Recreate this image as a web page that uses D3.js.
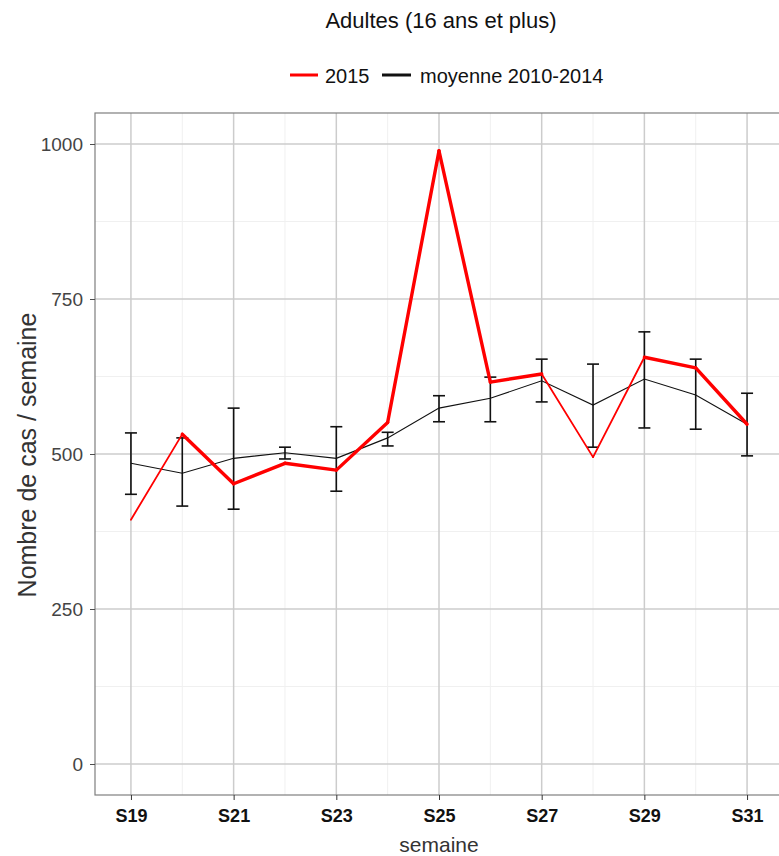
<!DOCTYPE html>
<html>
<head>
<meta charset="utf-8">
<script src="https://cdn.jsdelivr.net/npm/d3@7"></script>
<style>
  body { margin: 0; background: #fff; }
  svg { font-family: 'Liberation Sans', Arial, sans-serif; }
</style>
</head>
<body>
<svg id="chart" width="779" height="856"></svg>
<script>
const semaines = [19, 20, 21, 22, 23, 24, 25, 26, 27, 28, 29, 30, 31];
const cas2015 = [394, 532, 452, 485, 474, 551, 989, 616, 629, 495, 656, 639, 548];
const moyenne = [485, 469, 493, 502, 493, 526, 574, 590, 618, 579, 621, 595, 548];
const borneHaute = [534, 526, 574, 511, 544, 535, 594, 624, 653, 645, 697, 653, 598];
const borneBasse = [435, 416, 411, 492, 440, 513, 552, 552, 584, 511, 542, 540, 497];
const yTicks = [0, 250, 500, 750, 1000];
const xTicks = [19, 21, 23, 25, 27, 29, 31];

// segments of the 2015 line drawn thicker
const THICK = [false, true, true, true, true, true, true, true, false, false, true, true];

const panel = { left: 95, top: 113, right: 783, bottom: 795 };
const FONT = "'Liberation Sans', Arial, sans-serif";

const svg = d3.select('#chart');

const x = d3.scaleLinear().domain([18.3, 31.7]).range([panel.left, panel.right]);
const y = d3.scaleLinear().domain([-50, 1050]).range([panel.bottom, panel.top]);

// grid
const grid = svg.append('g');
grid.selectAll('.minor-y')
  .data([125, 375, 625, 875])
  .join('line')
  .attr('x1', panel.left).attr('x2', panel.right)
  .attr('y1', (d) => y(d)).attr('y2', (d) => y(d))
  .attr('stroke', '#f0f0f0').attr('stroke-width', 1);
grid.selectAll('.minor-x')
  .data(semaines.filter((s) => s % 2 === 0))
  .join('line')
  .attr('y1', panel.top).attr('y2', panel.bottom)
  .attr('x1', (d) => x(d)).attr('x2', (d) => x(d))
  .attr('stroke', '#f0f0f0').attr('stroke-width', 1);
grid.selectAll('.major-y')
  .data(yTicks)
  .join('line')
  .attr('x1', panel.left).attr('x2', panel.right)
  .attr('y1', (d) => y(d)).attr('y2', (d) => y(d))
  .attr('stroke', '#cccccc').attr('stroke-width', 1.5);
grid.selectAll('.major-x')
  .data(xTicks)
  .join('line')
  .attr('y1', panel.top).attr('y2', panel.bottom)
  .attr('x1', (d) => x(d)).attr('x2', (d) => x(d))
  .attr('stroke', '#cccccc').attr('stroke-width', 1.5);

svg.append('rect')
  .attr('x', panel.left).attr('y', panel.top)
  .attr('width', panel.right - panel.left).attr('height', panel.bottom - panel.top)
  .attr('fill', 'none').attr('stroke', '#7f7f7f').attr('stroke-width', 1.2);

// axes
const yAxis = svg.append('g')
  .attr('transform', `translate(${panel.left},0)`)
  .call(d3.axisLeft(y).tickValues(yTicks).tickFormat(d3.format('d')).tickSize(5).tickPadding(7));
yAxis.select('.domain').remove();
yAxis.selectAll('line').attr('stroke', '#4d4d4d');
yAxis.selectAll('text')
  .attr('font-size', 19).attr('fill', '#444').attr('font-family', FONT);

const xAxis = svg.append('g')
  .attr('transform', `translate(0,${panel.bottom})`)
  .call(d3.axisBottom(x).tickValues(xTicks).tickFormat((d) => 'S' + d).tickSize(5).tickPadding(9));
xAxis.select('.domain').remove();
xAxis.selectAll('line').attr('stroke', '#333');
xAxis.selectAll('text')
  .attr('font-size', 18).attr('font-weight', 'bold').attr('fill', '#111')
  .attr('font-family', FONT);

// error bars
const eb = svg.append('g').attr('stroke', '#111').attr('stroke-width', 1.6);
semaines.forEach((s, i) => {
  eb.append('line')
    .attr('x1', x(s)).attr('x2', x(s))
    .attr('y1', y(borneHaute[i])).attr('y2', y(borneBasse[i]));
  [borneHaute[i], borneBasse[i]].forEach((v) => {
    eb.append('line')
      .attr('x1', x(s) - 6).attr('x2', x(s) + 6)
      .attr('y1', y(v)).attr('y2', y(v));
  });
});

// mean line
const line = d3.line().x((d) => x(d[0])).y((d) => y(d[1]));
svg.append('path')
  .datum(semaines.map((s, i) => [s, moyenne[i]]))
  .attr('d', line)
  .attr('fill', 'none').attr('stroke', '#111').attr('stroke-width', 1.1);

// 2015 line, segment by segment
const red = svg.append('g').attr('stroke', '#ff0000').attr('fill', 'none')
  .attr('stroke-linecap', 'round').attr('stroke-linejoin', 'round');
for (let i = 0; i < semaines.length - 1; i++) {
  red.append('path')
    .attr('d', line([[semaines[i], cas2015[i]], [semaines[i + 1], cas2015[i + 1]]]))
    .attr('stroke-width', THICK[i] ? 3.4 : 1.8);
}

// titles
svg.append('text')
  .attr('x', 441).attr('y', 28)
  .attr('text-anchor', 'middle').attr('font-size', 22).attr('fill', '#111')
  .text('Adultes (16 ans et plus)');

svg.append('text')
  .attr('x', 439).attr('y', 852)
  .attr('text-anchor', 'middle').attr('font-size', 21).attr('fill', '#333')
  .text('semaine');

svg.append('text')
  .attr('transform', `translate(36,${(panel.top + panel.bottom) / 2 + 1}) rotate(-90)`)
  .attr('text-anchor', 'middle').attr('font-size', 25).attr('fill', '#333')
  .text('Nombre de cas / semaine');

// legend
const legend = svg.append('g').attr('font-size', 20).attr('fill', '#111');
legend.append('line').attr('x1', 290).attr('x2', 318).attr('y1', 75).attr('y2', 75)
  .attr('stroke', '#ff0000').attr('stroke-width', 3);
legend.append('text').attr('x', 325).attr('y', 83).text('2015');
legend.append('line').attr('x1', 382).attr('x2', 411).attr('y1', 75).attr('y2', 75)
  .attr('stroke', '#111').attr('stroke-width', 3);
legend.append('text').attr('x', 420).attr('y', 83).text('moyenne 2010-2014');
</script>
</body>
</html>
